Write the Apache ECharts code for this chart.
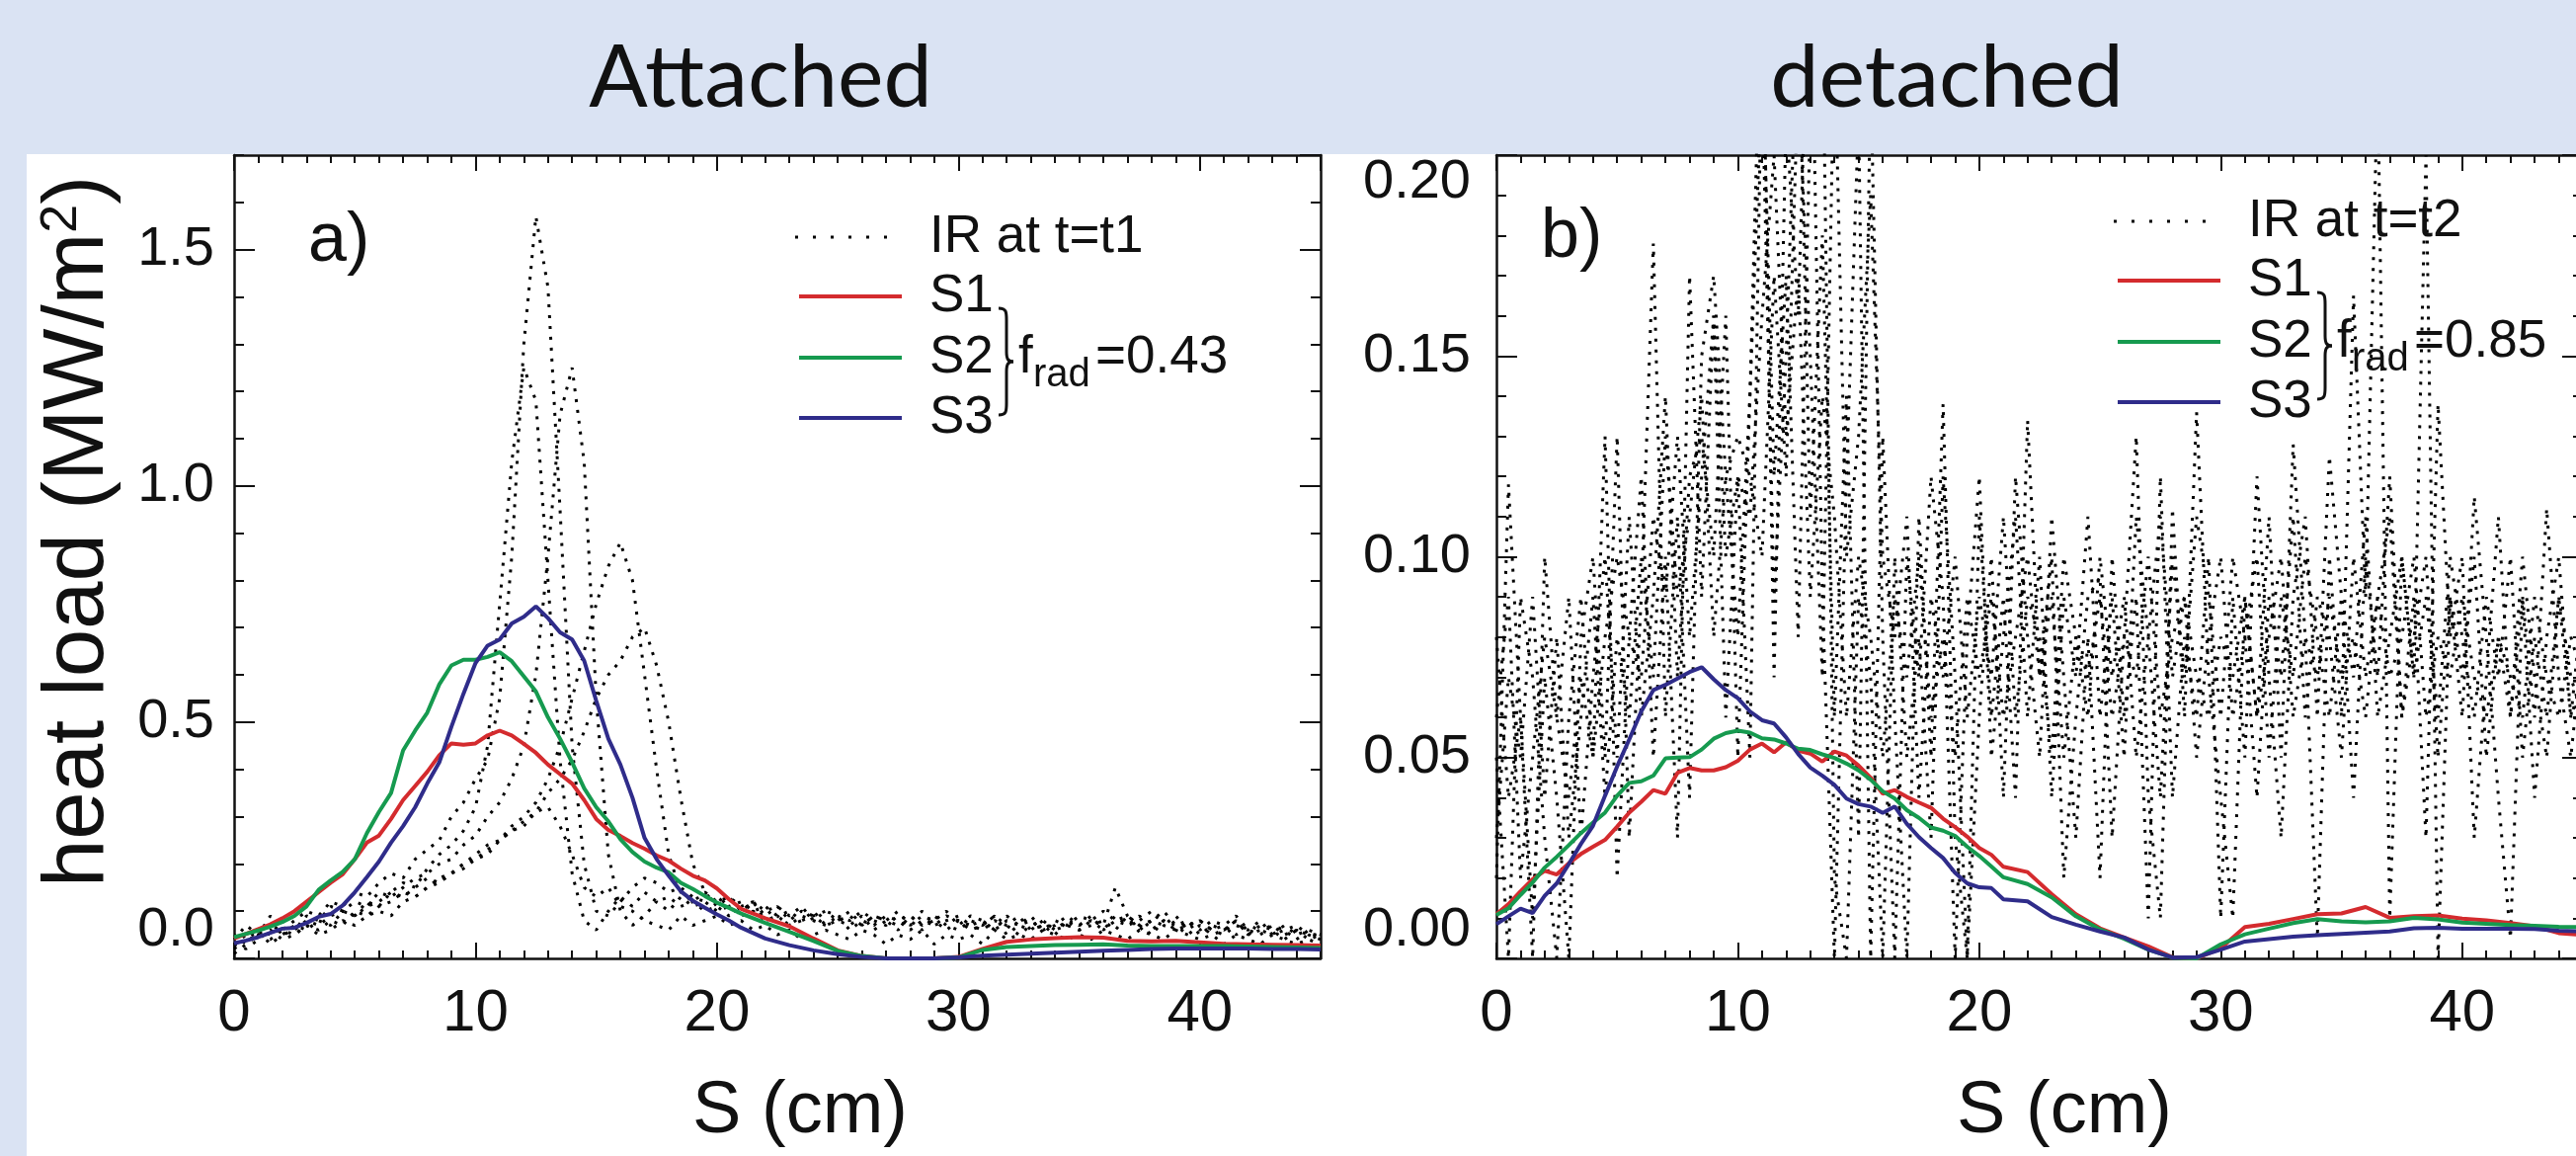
<!DOCTYPE html>
<html>
<head>
<meta charset="utf-8">
<title>heat load - attached / detached</title>
<script src="https://cdn.jsdelivr.net/npm/echarts/dist/echarts.min.js"></script>
<style>
html, body { margin: 0; padding: 0; background: #dae3f3; }
#chart { width: 2608px; height: 1170px; }
</style>
</head>
<body>
<div id="chart"></div>
<script>
// S positions (cm) of the IR camera profiles
const sIR = [0,0.5,1,1.5,2,2.5,3,3.5,4,4.5,5,5.5,6,6.5,7,7.5,8,8.5,9,9.5,
  10,10.5,11,11.5,12,12.5,13,13.5,14,14.5,15,15.5,16,16.5,17,17.5,18,18.5,19,19.5,
  20,20.5,21,21.5,22,22.5,23,23.5,24,24.5,25,25.5,26,26.5,27,27.5,28,28.5,29,29.5,
  30,30.5,31,31.5,32,32.5,33,33.5,34,34.5,35,35.5,36,36.5,37,37.5,38,38.5,39,39.5,
  40,40.5,41,41.5,42,42.5,43,43.5,44,44.5,45];

// S positions (cm) of the simulated profiles S1..S3
const sFit = [0,0.5,1,1.5,2,2.5,3,3.5,4,4.5,5,5.5,6,6.5,7,7.5,8,8.5,9,9.5,
  10,10.5,11,11.5,12,12.5,13,13.5,14,14.5,15,15.5,16,16.5,17,17.5,18,18.5,19,19.5,
  20,20.5,21,22,23,24,25,26,27,28,29,30,31,32,33,34,35,36,37,38,39,40,41,42,43,44,45];

// ---- a) attached, IR at t=t1 (MW/m2)
const irA1 = [.04,.07,.05,.09,.06,.08,.10,.09,.12,.11, .14,.13,.16,.18,.17,.21,.23,.25,.30,.33,
  .38,.42,.55,.85,1.30,1.57,1.42,.95,.45,.20, .10,.09,.12,.15,.17,.16,.14,.15,.13,.12,
  .13,.11,.12,.10,.11,.09,.10,.08,.09,.10, .08,.09,.07,.09,.08,.10,.07,.09,.08,.10,
  .07,.09,.08,.06,.08,.07,.09,.06,.08,.07, .09,.08,.10,.08,.09,.07,.08,.10,.07,.08,
  .06,.08,.07,.05,.07,.06,.05,.07,.05,.06, .05];
const irA2 = [.02,.04,.06,.03,.05,.07,.06,.08,.07,.10, .09,.12,.11,.14,.16,.15,.19,.22,.24,.27,
  .32,.45,.75,1.05,1.25,1.18,.80,.42,.18,.08, .06,.10,.13,.11,.14,.12,.13,.11,.12,.10,
  .11,.09,.10,.12,.08,.09,.07,.09,.08,.07, .09,.06,.08,.07,.09,.08,.06,.08,.07,.09,
  .08,.06,.07,.09,.05,.07,.06,.08,.06,.07, .06,.08,.07,.15,.09,.06,.08,.07,.09,.06,
  .08,.06,.07,.09,.06,.05,.07,.06,.04,.06, .04];
const irA3 = [.05,.03,.06,.05,.08,.06,.09,.08,.11,.10, .12,.11,.14,.13,.15,.17,.18,.20,.21,.24,
  .26,.30,.33,.38,.45,.60,.85,1.15,1.25,1.05, .55,.22,.10,.07,.09,.12,.10,.13,.11,.12,
  .10,.11,.09,.10,.08,.09,.07,.08,.10,.07, .08,.07,.09,.06,.08,.07,.08,.06,.09,.07,
  .06,.08,.07,.09,.07,.05,.07,.08,.06,.08, .07,.09,.06,.08,.07,.09,.06,.08,.07,.05,
  .07,.05,.06,.08,.05,.07,.06,.04,.06,.05, .05];
const irA4 = [.03,.05,.04,.07,.05,.06,.08,.07,.09,.10, .09,.11,.12,.14,.13,.15,.17,.16,.18,.20,
  .22,.24,.25,.28,.30,.33,.38,.45,.55,.65, .75,.83,.88,.80,.60,.40,.22,.14,.12,.14,
  .12,.13,.11,.12,.10,.11,.09,.11,.08,.10, .09,.08,.10,.08,.07,.09,.08,.10,.07,.08,
  .09,.07,.08,.06,.09,.07,.08,.06,.07,.09, .07,.08,.06,.09,.07,.08,.10,.07,.06,.08,
  .05,.07,.06,.08,.05,.06,.07,.05,.06,.04, .05];
const irA5 = [.01,.03,.05,.04,.06,.05,.07,.06,.08,.07, .10,.09,.11,.12,.14,.13,.15,.17,.18,.20,
  .21,.23,.25,.27,.28,.31,.35,.38,.42,.48, .55,.60,.63,.68,.70,.62,.50,.34,.20,.14,
  .11,.13,.10,.12,.09,.11,.08,.10,.09,.07, .08,.10,.07,.09,.08,.06,.09,.07,.08,.06,
  .08,.07,.06,.08,.07,.09,.06,.07,.05,.08, .06,.07,.08,.06,.09,.07,.05,.08,.06,.07,
  .08,.06,.05,.07,.06,.08,.05,.06,.07,.05, .04];
const irA6 = [.03,.02,.04,.06,.04,.05,.07,.05,.06,.08, .07,.09,.10,.09,.12,.13,.15,.16,.18,.19,
  .21,.22,.25,.27,.29,.31,.32,.28,.22,.15, .13,.15,.11,.10,.08,.07,.06,.09,.07,.08,
  .09,.07,.08,.06,.07,.05,.06,.04,.05,.06, .05,.04,.06,.05,.03,.05,.04,.06,.03,.05,
  .04,.05,.03,.06,.04,.05,.04,.06,.05,.04, .05,.04,.06,.05,.04,.06,.05,.04,.06,.05,
  .04,.05,.03,.05,.04,.03,.05,.04,.03,.04, .03];

const s1A = [.042,.052,.062,.072,.085,.100,.120,.140,.160,.178, .210,.245,.260,.295,.335,.365,.395,.430,.455,.452,
  .455,.472,.482,.472,.454,.435,.410,.390,.370,.335, .295,.272,.259,.244,.232,.218,.207,.190,.175,.165,
  .148,.125,.105, .085,.068,.042,.017,.005,0,0,0,.003,.020,.035,.040,.043,.045,.044,.037,.036,.037,.034,.031,.030,.029,.028,.027];
const s2A = [.045,.052,.059,.067,.077,.090,.110,.145,.165,.183, .210,.265,.310,.350,.440,.482,.520,.580,.620,.632,
  .632,.638,.648,.629,.597,.565,.510,.465,.415,.360, .320,.290,.252,.225,.205,.192,.182,.160,.147,.132,
  .118,.107,.095, .075,.056,.037,.016,.005,0,0,0,.002,.018,.024,.026,.028,.029,.030,.027,.026,.026,.026,.026,.025,.024,.023,.022];
const s3A = [.032,.038,.045,.054,.063,.065,.075,.088,.094,.112, .140,.172,.205,.245,.280,.320,.370,.415,.490,.560,
  .625,.662,.675,.709,.723,.745,.720,.690,.675,.630, .545,.465,.410,.340,.255,.210,.175,.142,.122,.107,
  .093,.080,.065, .042,.028,.017,.009,.003,0,0,0,.002,.006,.008,.010,.012,.014,.016,.018,.020,.021,.021,.021,.021,.020,.020,.019];

// ---- b) detached, IR at t=t2 (MW/m2)
const irB1 = [.02,.118,.06,.01,.07,.04,0,.08,.10,.05, .13,.03,.09,.178,.06,.11,.04,.15,.17,.12,
  .08,.14,.25,.07,.21,.16,.26,.09,0,.12, .21,0,.13,.06,0,.11,.05,.138,.03,0,
  .11,.06,.09,.04,.134,.07,.10,.02,.06,.09, .095,.03,.08,.13,.04,.01,.112,.06,.136,.07,
  .04,.01,.09,.06,.11,.05,.128,.08,.005,.10, .06,.165,.09,.22,.01,.10,.07,.20,0,.09,
  .06,.115,.08,.04,.005,.09,.06,.112,.07,.05, .08];
const irB2 = [.05,0,.09,.07,.03,0,.06,.09,.05,.13, .02,.08,.12,.05,.10,.03,.17,.09,.16,.06,
  .12,.05,.23,.12,.17,.08,.21,.24,.02,0, .09,.07,0,.10,.05,.08,.03,.12,.07,0,
  .06,.10,.04,.12,.08,.05,.11,.07,.03,.08, .02,.10,.06,.09,.01,.12,.04,.08,.06,.10,
  .01,.09,.05,.12,.07,.03,.09,.11,.06,.125, .09,.04,.10,.07,.12,.06,.09,.03,.138,.08,
  .10,.03,.07,.11,.06,.09,.04,.08,.10,.06, .07];
const irB3 = [.08,.04,.06,0,.10,.06,.09,.03,.07,.10, .05,.11,.06,.09,.14,.07,.12,.13,.10,.16,
  .05,.14,.22,.09,.15,.24,.11,.18,.06,.14, .03,.22,.08,0,.10,.07,.12,.09,0,.08,
  .12,.05,.08,.11,.06,.10,.04,.09,.07,.11, .06,.09,.05,.11,.08,.04,.10,.07,.11,.09,
  .06,.10,.08,.04,.09,.07,.11,.06,.09,.08, .05,.10,.07,.09,.11,.06,.08,.10,.05,.09,
  .07,.10,.05,.08,.06,.10,.07,.05,.09,.06, .09];
const irB4 = [.03,.07,.05,.09,.04,.08,.03,.06,.09,.04, .08,.06,.10,.07,.13,.09,.11,.14,.08,.12,
  .13,.12,.10,.17,.12,.22,.15,.07,.23,.10, .13,.19,.10,.08,.11,.04,.09,.07,.10,.06,
  .09,.07,.11,.06,.09,.08,.05,.10,.08,.06, .10,.07,.09,.05,.08,.11,.07,.09,.05,.08,
  .10,.06,.08,.10,.05,.09,.07,.10,.08,.06, .09,.07,.11,.06,.08,.10,.07,.09,.06,.10,
  .08,.06,.09,.07,.10,.05,.08,.06,.09,.07, .06];
const irB5 = [.06,.09,.02,.05,.08,.06,.04,.07,.05,.08, .10,.08,.07,.11,.09,.13,.08,.12,.16,.10,
  .12,.11,.16,.20,.13,.17,.09,.14,.11,.06, .10,.08,.05,.09,.07,.10,.06,.08,.05,.09,
  .07,.09,.06,.08,.10,.07,.09,.05,.08,.07, .09,.06,.08,.07,.10,.06,.08,.09,.07,.06,
  .08,.07,.09,.06,.08,.10,.06,.08,.07,.09, .07,.08,.06,.09,.07,.08,.10,.06,.08,.07,
  .09,.07,.06,.08,.07,.06,.09,.07,.06,.08, .07];

const s1B = [.0110,.0135,.0167,.0197,.0218,.0209,.0237,.0260,.0278,.0295, .0328,.0363,.0390,.0419,.0410,.0462,.0474,.0468,.0468,.0476,
  .0492,.0520,.0535,.0513,.0538,.0517,.0510,.0490,.0515,.0505, .0480,.0450,.0410,.0419,.0402,.0388,.0375,.0348,.0327,.0303,
  .0275,.0258,.0228, .0215,.0160,.0110,.0075,.0052,.0030,.0003,0,.0025,.0078,.0086,.0098,.0110,.0112,.0128,.0101,.0105,.0107,.0099,.0095,.0088,.0080,.0063,.0058];
const s2B = [.0108,.0125,.0158,.0189,.0226,.0253,.0282,.0312,.0338,.0363, .0405,.0437,.0441,.0455,.0498,.0500,.0501,.0520,.0547,.0561,
  .0567,.0562,.0548,.0545,.0535,.0522,.0519,.0508,.0499,.0485, .0468,.0445,.0416,.0398,.0369,.0350,.0326,.0318,.0305,.0278,
  .0255,.0229,.0202, .0185,.0152,.0105,.0072,.0049,.0022,.0002,0,.0035,.0060,.0074,.0088,.0098,.0092,.0090,.0092,.0101,.0097,.0089,.0086,.0083,.0081,.0079,.0078];
const s3B = [.0085,.0105,.0124,.0113,.0156,.0187,.0235,.0285,.0330,.0405, .0478,.0545,.0615,.0668,.0681,.0697,.0713,.0725,.0695,.0668,
  .0648,.0615,.0593,.0585,.0550,.0509,.0475,.0455,.0432,.0398, .0384,.0378,.0362,.0378,.0335,.0302,.0275,.0250,.0213,.0187,
  .0177,.0175,.0147, .0142,.0103,.0084,.0067,.0052,.0022,.0002,.0003,.0022,.0042,.0048,.0054,.0058,.0061,.0064,.0067,.0075,.0076,.0074,.0074,.0074,.0073,.0069,.0067];

const xTicks = [0, 10, 20, 30, 40];

const RED = '#d42b2e', GREEN = '#169a4f', BLUE = '#2f2c8a', INK = '#111';
const FAMILY = '"Liberation Sans", Arial, Helvetica, sans-serif';

const zip = (xs, ys) => xs.map((x, i) => [x, ys[i]]);

const chart = echarts.init(document.getElementById('chart'));

const xAxes = [];
const yAxes = [];

// frame axes for one panel: bottom/top with major+minor ticks, left/right likewise
function addFrame(grid, yMax, yMajor, yMinor, digits, labelGap) {
  const xi = xAxes.length, yi = yAxes.length;
  const line = { onZero: false, lineStyle: { color: INK, width: 2.5 } };
  const noLine = { show: false, onZero: false };
  const tick = (len) => ({ show: true, inside: true, length: len, lineStyle: { color: INK, width: 2 } });
  const xCommon = { type: 'value', gridIndex: grid, min: 0, max: 45, splitLine: { show: false } };
  xAxes.push(Object.assign({}, xCommon, {
    position: 'bottom', interval: 10, axisLine: line, axisTick: tick(16),
    axisLabel: {
      show: true, margin: 26, fontSize: 60, fontFamily: FAMILY, color: INK, showMaxLabel: false,
      formatter: (v) => (xTicks.indexOf(v) >= 0 ? String(v) : '')
    }
  }));
  xAxes.push(Object.assign({}, xCommon, { position: 'bottom', interval: 1, axisLine: noLine, axisTick: tick(8), axisLabel: { show: false } }));
  xAxes.push(Object.assign({}, xCommon, { position: 'top', interval: 10, axisLine: line, axisTick: tick(16), axisLabel: { show: false } }));
  xAxes.push(Object.assign({}, xCommon, { position: 'top', interval: 1, axisLine: noLine, axisTick: tick(8), axisLabel: { show: false } }));

  const yCommon = { type: 'value', gridIndex: grid, min: 0, max: yMax, splitLine: { show: false } };
  yAxes.push(Object.assign({}, yCommon, {
    position: 'left', interval: yMajor, axisLine: line, axisTick: tick(21),
    axisLabel: {
      show: true, margin: labelGap, fontSize: 56, fontFamily: FAMILY, color: INK,
      showMaxLabel: yMax === 0.2, verticalAlignMinLabel: 'bottom', verticalAlignMaxLabel: 'top',
      formatter: (v) => v.toFixed(digits)
    }
  }));
  yAxes.push(Object.assign({}, yCommon, { position: 'left', interval: yMinor, axisLine: noLine, axisTick: tick(10), axisLabel: { show: false } }));
  yAxes.push(Object.assign({}, yCommon, { position: 'right', interval: yMajor, axisLine: line, axisTick: tick(21), axisLabel: { show: false } }));
  yAxes.push(Object.assign({}, yCommon, { position: 'right', interval: yMinor, axisLine: noLine, axisTick: tick(10), axisLabel: { show: false } }));
  return { xi, yi };
}

const pa = addFrame(0, 1.7, 0.5, 0.1, 1, 20);
const pb = addFrame(1, 0.2, 0.05, 0.01, 2, 26);

function irSeries(name, ax, ys) {
  return {
    type: 'line', name, xAxisIndex: ax.xi, yAxisIndex: ax.yi,
    data: zip(sIR, ys), symbol: 'none', silent: true, z: 2,
    lineStyle: { color: '#000', width: 3, type: [3, 8], cap: 'butt' }
  };
}
function fitSeries(name, ax, ys, color) {
  return {
    type: 'line', name, xAxisIndex: ax.xi, yAxisIndex: ax.yi,
    data: zip(sFit, ys), symbol: 'none', silent: true, z: 3,
    lineStyle: { color, width: 4 }
  };
}

const series = [
  irSeries('IR t1 a', pa, irA1), irSeries('IR t1 b', pa, irA2), irSeries('IR t1 c', pa, irA3),
  irSeries('IR t1 d', pa, irA4), irSeries('IR t1 e', pa, irA5), irSeries('IR t1 f', pa, irA6),
  fitSeries('S1', pa, s1A, RED), fitSeries('S2', pa, s2A, GREEN), fitSeries('S3', pa, s3A, BLUE),
  irSeries('IR t2 a', pb, irB1), irSeries('IR t2 b', pb, irB2), irSeries('IR t2 c', pb, irB3),
  irSeries('IR t2 d', pb, irB4), irSeries('IR t2 e', pb, irB5),
  fitSeries('S1', pb, s1B, RED), fitSeries('S2', pb, s2B, GREEN), fitSeries('S3', pb, s3B, BLUE)
];

function txt(x, y, text, size, align, family) {
  const a = align || 'left';
  return {
    type: 'text', x, y, silent: true, z: 50,
    style: {
      text, fill: INK, font: size + 'px ' + (family || FAMILY),
      align: a, verticalAlign: 'middle', textAlign: a, textVerticalAlign: 'middle'
    }
  };
}

function seg(x1, y1, x2, y2) {
  return { type: 'line', silent: true, z: 50, shape: { x1, y1, x2, y2 }, style: { stroke: INK, lineWidth: 3 } };
}
function curve(x1, y1, cpx1, cpy1, cpx2, cpy2, x2, y2) {
  return { type: 'bezierCurve', silent: true, z: 50, shape: { x1, y1, cpx1, cpy1, cpx2, cpy2, x2, y2 },
    style: { stroke: INK, lineWidth: 3, fill: null } };
}

// curly brace joining S1..S3, top at (x, y), 108 px tall
function brace(x, y) {
  return [
    curve(x, y, x + 8, y, x + 8, y + 4, x + 8, y + 12),
    seg(x + 8, y + 12, x + 8, y + 44),
    curve(x + 8, y + 44, x + 8, y + 52, x + 10, y + 54, x + 15, y + 54),
    curve(x + 15, y + 54, x + 10, y + 54, x + 8, y + 56, x + 8, y + 64),
    seg(x + 8, y + 64, x + 8, y + 96),
    curve(x + 8, y + 96, x + 8, y + 104, x + 8, y + 108, x, y + 108)
  ];
}

// legend block drawn by hand (lines, labels, brace, f_rad)
function legendBlock(x0, y0, irText, frad) {
  const rows = [0, 60, 122, 183];
  const out = [];
  out.push({ type: 'line', silent: true, z: 50, shape: { x1: x0, y1: y0 + rows[0], x2: x0 + 104, y2: y0 + rows[0] },
    style: { stroke: '#000', lineWidth: 3, lineDash: [3, 15] } });
  [RED, GREEN, BLUE].forEach((c, i) => {
    out.push({ type: 'line', silent: true, z: 50, shape: { x1: x0 + 4, y1: y0 + rows[i + 1], x2: x0 + 108, y2: y0 + rows[i + 1] },
      style: { stroke: c, lineWidth: 4 } });
  });
  out.push(txt(x0 + 136, y0 + rows[0], irText, 53));
  out.push(txt(x0 + 136, y0 + rows[1], 'S1', 53));
  out.push(txt(x0 + 136, y0 + rows[2], 'S2', 53));
  out.push(txt(x0 + 136, y0 + rows[3], 'S3', 53));
  brace(x0 + 206, y0 + 72).forEach((el) => out.push(el));
  out.push(txt(x0 + 226, y0 + rows[2], 'f', 53));
  out.push(txt(x0 + 241, y0 + rows[2] + 18, 'rad', 40));
  out.push(txt(x0 + 304, y0 + rows[2], '=' + frad, 53));
  return out;
}

const TITLE_FONT = 'Lato, "Open Sans", sans-serif';

const graphics = [
  { type: 'rect', silent: true, z: -100, shape: { x: 27, y: 156, width: 2581, height: 1014 }, style: { fill: '#ffffff' } },
  txt(770, 80, 'Attached', 88, 'center', TITLE_FONT),
  txt(1971, 80, 'detached', 88, 'center', TITLE_FONT),
  txt(312, 245, 'a)', 70),
  txt(1560, 241, 'b)', 70),
  {
    type: 'text', x: 80, y: 538, rotation: Math.PI / 2, silent: true, z: 50,
    style: {
      text: '{t|heat load (MW/m}{s|2}{t|)}', fill: INK,
      align: 'center', verticalAlign: 'middle', textAlign: 'center', textVerticalAlign: 'middle',
      rich: {
        t: { fontSize: 87, fontFamily: FAMILY, fill: INK, lineHeight: 87 },
        s: { fontSize: 52, fontFamily: FAMILY, fill: INK, verticalAlign: 'top', lineHeight: 52 }
      }
    }
  },
  txt(810, 1126, 'S (cm)', 74, 'center'),
  txt(2090, 1126, 'S (cm)', 74, 'center')
].concat(legendBlock(805, 240, 'IR at t=t1', '0.43'), legendBlock(2140, 224, 'IR at t=t2', '0.85'));

chart.setOption({
  animation: false,
  backgroundColor: '#dae3f3',
  grid: [
    { left: 237, top: 157, width: 1100, height: 813, containLabel: false, outerBoundsMode: 'none' },
    { left: 1515, top: 157, width: 1100, height: 813, containLabel: false, outerBoundsMode: 'none' }
  ],
  xAxis: xAxes,
  yAxis: yAxes,
  series: series,
  graphic: { elements: graphics }
});
</script>
</body>
</html>
